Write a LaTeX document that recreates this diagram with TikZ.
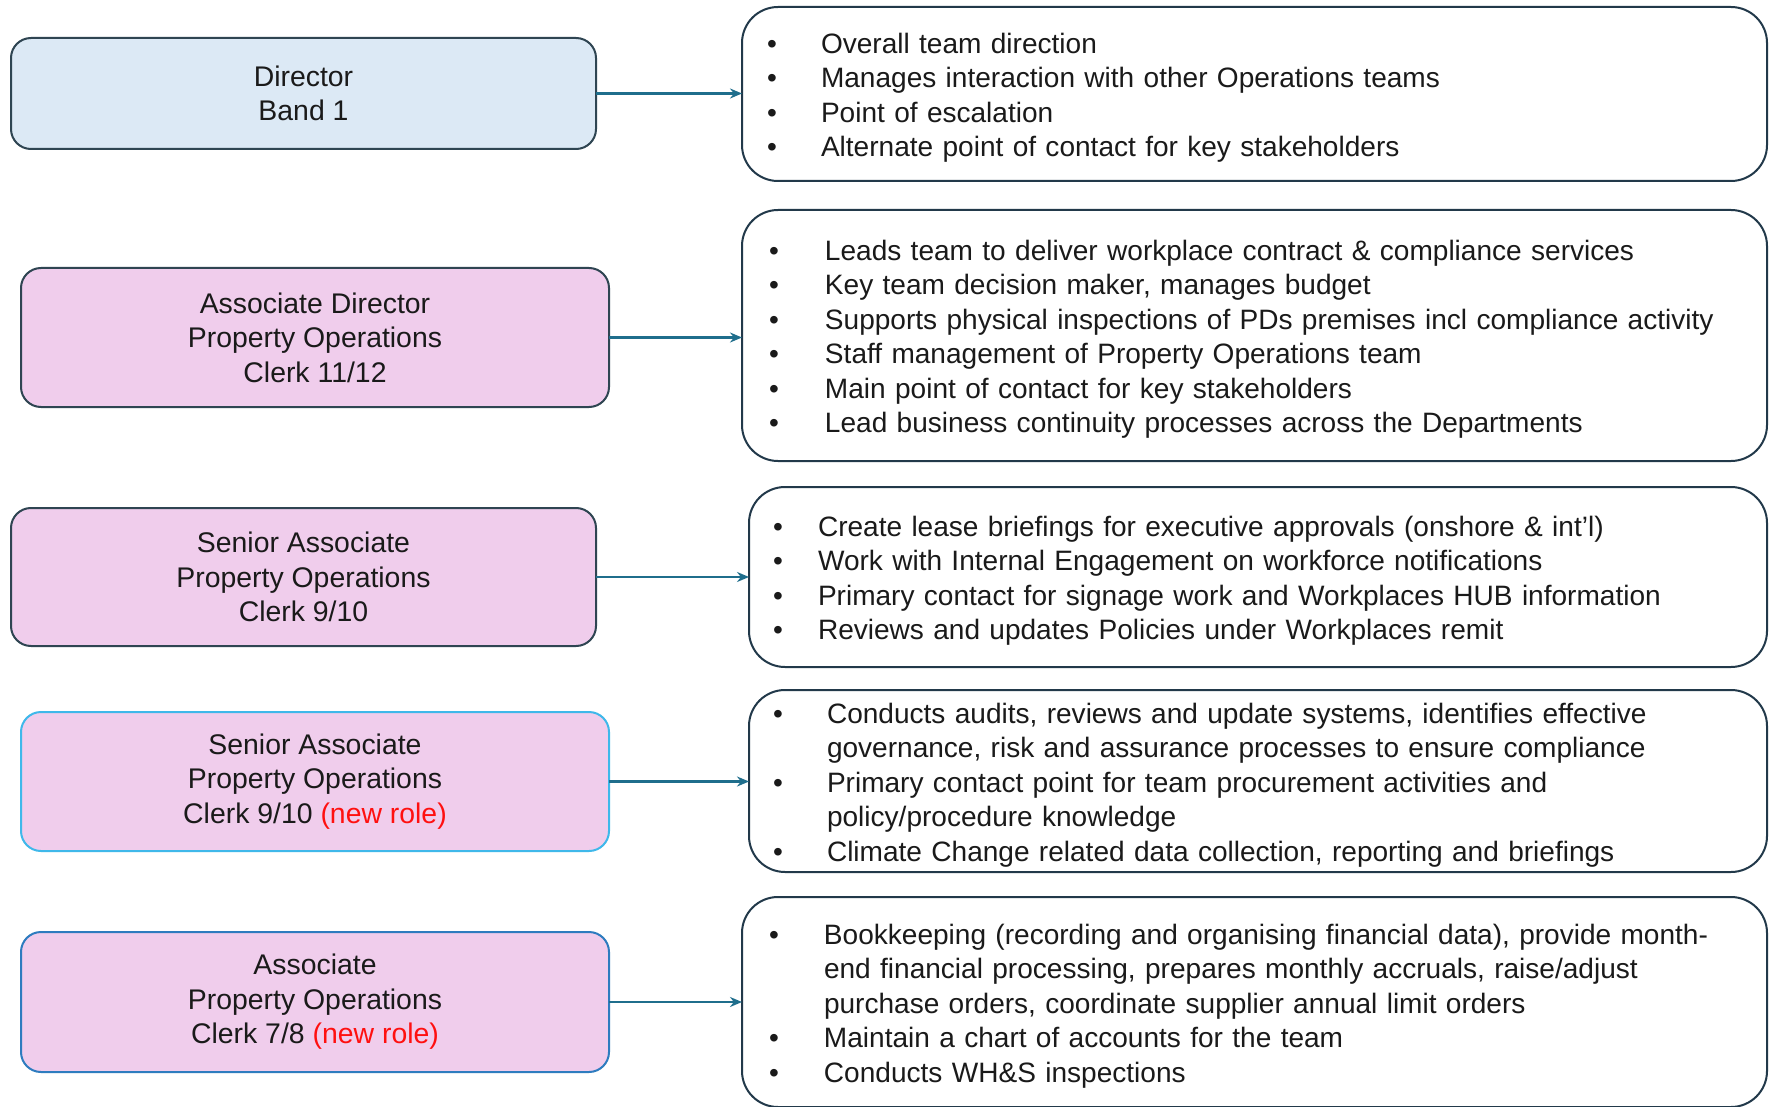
\documentclass[tikz,border=0pt]{standalone}
\usepackage{fontspec}
\setmainfont{Liberation Sans}
\usetikzlibrary{arrows.meta}
\definecolor{bluefill}{HTML}{DCE9F5}
\definecolor{pinkfill}{HTML}{F0CDEC}
\definecolor{darkborder}{HTML}{2F4552}
\definecolor{cyanborder}{HTML}{3FB8EA}
\definecolor{blueborder}{HTML}{2E7CBF}
\definecolor{rborder}{HTML}{22394A}
\definecolor{arrowc}{HTML}{1F6E8C}
\definecolor{txt}{HTML}{1A1A1A}
\definecolor{newred}{HTML}{FF1010}
\newcommand\myfs{\fontsize{28.4}{34.5}\selectfont}
\newcommand\myrfs{\fontsize{28.05}{34.5}\selectfont}
\newcommand\bl[2]{\makebox[#1][l]{•}#2}
\newcommand\topstrut{\rule{0pt}{28pt}}
\begin{document}
\begin{tikzpicture}[x=1pt,y=-1pt,
  lbox/.style={draw=darkborder, line width=2pt, rounded corners=20pt, fill=pinkfill,
    minimum width=588pt, minimum height=139pt, align=center, font=\myfs, text=txt,
    inner sep=0pt, outer sep=0pt},
  rbox/.style={draw=rborder, line width=2pt, rounded corners=36pt, fill=white,
    align=left, font=\myrfs, text=txt, inner ysep=0pt, outer sep=0pt, anchor=north west},
  conn/.style={-{Stealth[length=12pt,width=10pt]}, line width=2.2pt, draw=arrowc}]
\useasboundingbox (0,0) rectangle (1769,1107);
\fill[white] (0,0) rectangle (1769,1107);

% left boxes
\node[lbox, fill=bluefill, minimum width=585pt, minimum height=111pt] (l1) at (303.5,93.5)
  {Director\\Band 1};
\node[lbox] (l2) at (315,337.5)
  {Associate Director\\Property Operations\\Clerk 11/12};
\node[lbox, minimum width=585pt, minimum height=138pt] (l3) at (303.5,577)
  {Senior Associate\\Property Operations\\Clerk 9/10};
\node[lbox, draw=cyanborder] (l4) at (315,781.5)
  {Senior Associate\\Property Operations\\Clerk 9/10 \textcolor{newred}{(new role)}};
\node[lbox, draw=blueborder, minimum height=140pt] (l5) at (315,1002)
  {Associate\\Property Operations\\Clerk 7/8 \textcolor{newred}{(new role)}};

% right boxes
\node[rbox, inner xsep=25pt, text width=975pt, minimum height=174pt] (r1) at (742,7)
  {\topstrut\bl{54pt}{Overall team direction}\\
   \bl{54pt}{Manages interaction with other Operations teams}\\
   \bl{54pt}{Point of escalation}\\
   \bl{54pt}{Alternate point of contact for key stakeholders}};
\node[rbox, inner xsep=27pt, text width=971pt, minimum height=251pt] (r2) at (742,210)
  {\topstrut\bl{56pt}{Leads team to deliver workplace contract \& compliance services}\\
   \bl{56pt}{Key team decision maker, manages budget}\\
   \bl{56pt}{Supports physical inspections of PDs premises incl compliance activity}\\
   \bl{56pt}{Staff management of Property Operations team}\\
   \bl{56pt}{Main point of contact for key stakeholders}\\
   \bl{56pt}{Lead business continuity processes across the Departments}};
\node[rbox, inner xsep=24pt, text width=970pt, minimum height=180pt] (r3) at (749,487)
  {\topstrut\bl{45pt}{Create lease briefings for executive approvals (onshore \& int'l)}\\
   \bl{45pt}{Work with Internal Engagement on workforce notifications}\\
   \bl{45pt}{Primary contact for signage work and Workplaces HUB information}\\
   \bl{45pt}{Reviews and updates Policies under Workplaces remit}};
\node[rbox, inner xsep=24pt, text width=970pt, minimum height=182pt] (r4) at (749,690)
  {\topstrut\bl{54pt}{Conducts audits, reviews and update systems, identifies effective}\\
   \hspace*{54pt}governance, risk and assurance processes to ensure compliance\\
   \bl{54pt}{Primary contact point for team procurement activities and}\\
   \hspace*{54pt}policy/procedure knowledge\\
   \bl{54pt}{Climate Change related data collection, reporting and briefings}};
\node[rbox, inner xsep=27pt, text width=971pt, minimum height=210pt] (r5) at (742,897)
  {\topstrut\bl{55pt}{Bookkeeping (recording and organising financial data), provide month-}\\
   \hspace*{55pt}end financial processing, prepares monthly accruals, raise/adjust\\
   \hspace*{55pt}purchase orders, coordinate supplier annual limit orders\\
   \bl{55pt}{Maintain a chart of accounts for the team}\\
   \bl{55pt}{Conducts WH\&S inspections}};

% connectors
\draw[conn] (l1.east) -- (l1.east -| r1.west);
\draw[conn] (l2.east) -- (l2.east -| r2.west);
\draw[conn] (l3.east) -- (l3.east -| r3.west);
\draw[conn] (l4.east) -- (l4.east -| r4.west);
\draw[conn] (l5.east) -- (l5.east -| r5.west);
\end{tikzpicture}
\end{document}
